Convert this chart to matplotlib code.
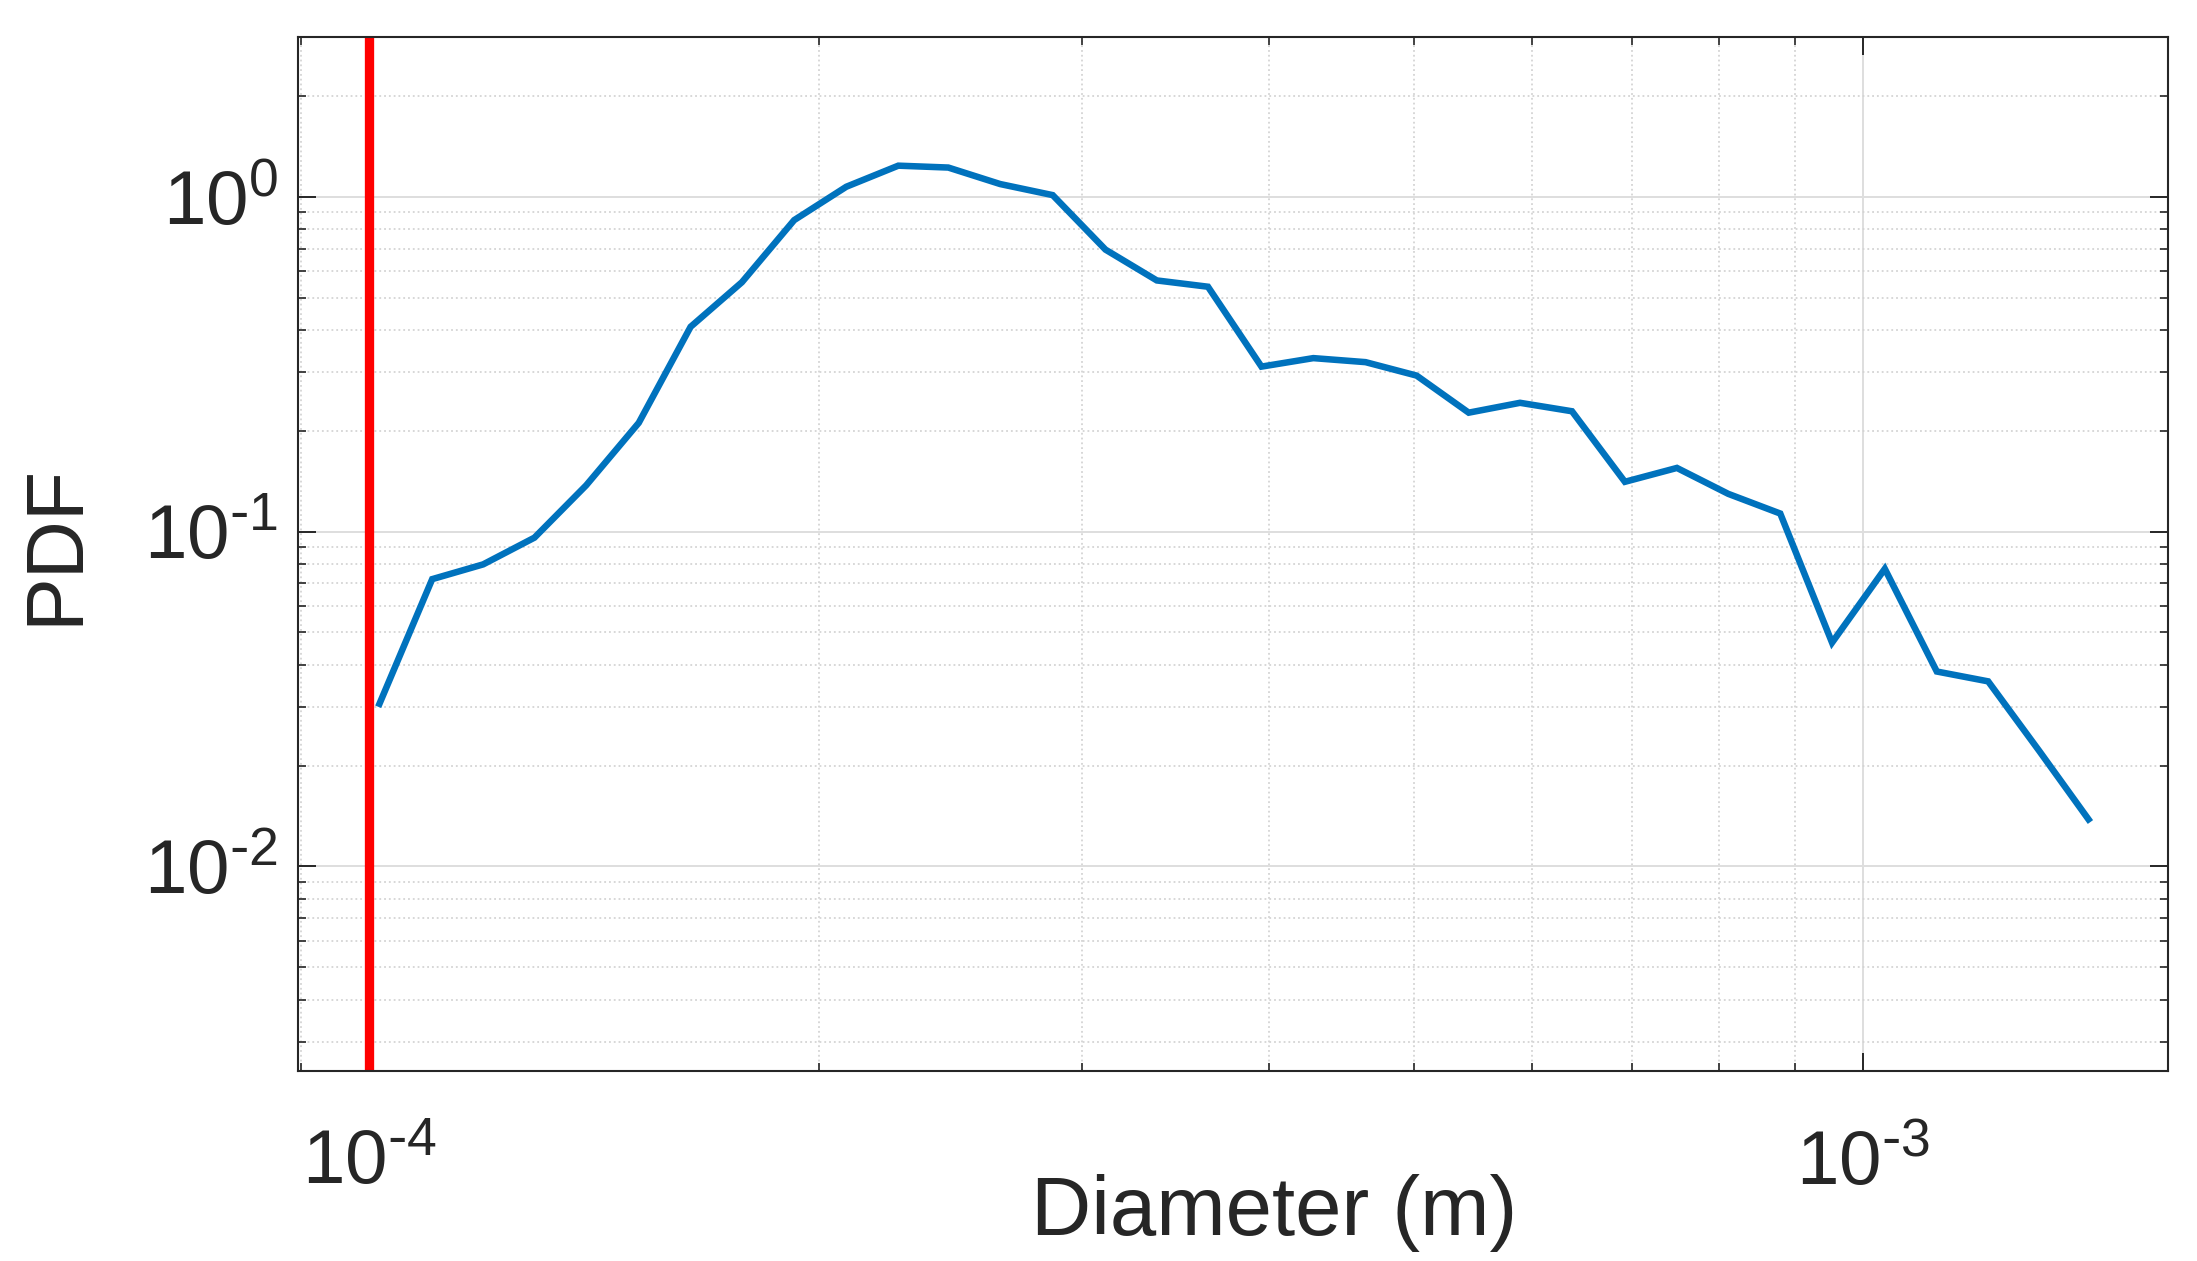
import numpy as np
import matplotlib.pyplot as plt
from matplotlib.ticker import LogLocator, NullFormatter, FuncFormatter

diameter = np.array([
    1.016e-4, 1.102e-4, 1.192e-4, 1.290e-4, 1.397e-4, 1.515e-4, 1.641e-4,
    1.776e-4, 1.925e-4, 2.086e-4, 2.260e-4, 2.441e-4, 2.644e-4, 2.867e-4,
    3.110e-4, 3.366e-4, 3.642e-4, 3.955e-4, 4.284e-4, 4.643e-4, 5.023e-4,
    5.443e-4, 5.891e-4, 6.382e-4, 6.924e-4, 7.502e-4, 8.120e-4, 8.797e-4,
    9.528e-4, 1.0335e-3, 1.1197e-3, 1.2119e-3, 1.3114e-3, 1.4146e-3,
])
pdf = np.array([
    0.0306, 0.0721, 0.0798, 0.0959, 0.1374, 0.2112, 0.4088,
    0.5554, 0.8515, 1.071, 1.238, 1.222, 1.091, 1.011,
    0.695, 0.5623, 0.5385, 0.3109, 0.3296, 0.3206, 0.2923,
    0.2265, 0.2424, 0.2287, 0.1408, 0.1549, 0.1296, 0.1132,
    0.0466, 0.0774, 0.0382, 0.0357, 0.0221, 0.01382,
])
cutoff = 1e-4

plt.rcParams['font.family'] = ['Liberation Sans', 'DejaVu Sans']
plt.rcParams['axes.unicode_minus'] = False
text_color = '#262626'


def pow10(v, pos):
    # matlab style labels: 10 with a short hyphen in the exponent
    e = int(round(np.log10(v)))
    if e < 0:
        return r'$\mathdefault{10^{\text{-}%d}}$' % (-e)
    return r'$\mathdefault{10^{%d}}$' % e


fig = plt.figure(figsize=(21.97, 12.61), dpi=100)
ax = fig.add_axes([0.1356, 0.1507, 0.8514, 0.8200])

ax.plot(diameter, pdf, color='#0072BD', lw=4.7, solid_joinstyle='miter')
ax.axvline(cutoff, color='#FF0000', lw=6.7)

ax.set_xscale('log')
ax.set_yscale('log')
ax.set_xlim(8.96e-5, 1.6e-3)
ax.set_ylim(2.45e-3, 3.0)

for axis in (ax.xaxis, ax.yaxis):
    axis.set_major_locator(LogLocator(base=10))
    axis.set_major_formatter(FuncFormatter(pow10))
    axis.set_minor_locator(LogLocator(base=10, subs=np.arange(2, 10)))
    axis.set_minor_formatter(NullFormatter())

ax.set_axisbelow(True)
ax.grid(which='major', color='#dedede', lw=1.4, ls='-')
ax.grid(which='minor', color='#d4d4d4', lw=1.3, ls=':')

ax.tick_params(which='both', direction='in', top=True, right=True,
               colors=text_color, labelsize=55)
ax.tick_params(which='major', length=13, width=1.4)
ax.tick_params(which='minor', length=5.8, width=1.2)
ax.tick_params(axis='x', which='major', pad=42)
ax.tick_params(axis='y', which='major', pad=14)
for sp in ax.spines.values():
    sp.set_color(text_color)
    sp.set_linewidth(1.5)

ax.set_xlabel('Diameter (m)', fontsize=60, color=text_color)
ax.xaxis.set_label_coords(0.522, -0.1)
ax.set_ylabel('PDF', fontsize=58, color=text_color)
ax.yaxis.set_label_coords(-0.109, 0.509)

fig.savefig('out.png', dpi=100)
